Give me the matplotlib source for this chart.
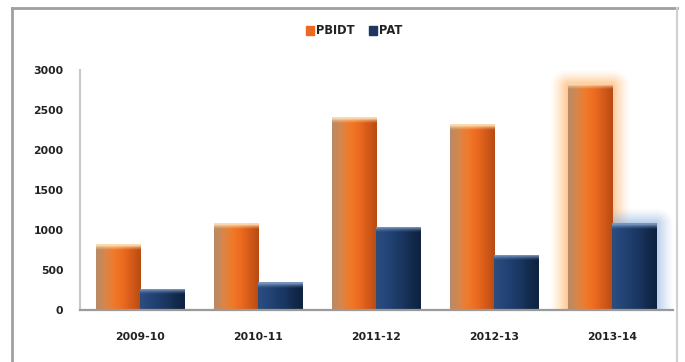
import numpy as np
import matplotlib
matplotlib.use("Agg")
import matplotlib.pyplot as plt
from matplotlib.colors import LinearSegmentedColormap, to_rgb
from matplotlib.patches import Rectangle
from matplotlib.lines import Line2D

# ---- data ----
categories = ["2009-10", "2010-11", "2011-12", "2012-13", "2013-14"]
pbidt = [825, 1085, 2410, 2320, 2830]
pat = [265, 345, 1040, 690, 1085]
yticks = [0, 500, 1000, 1500, 2000, 2500, 3000]
series_names = ["PBIDT", "PAT"]

ORANGE = "#EB6A1F"
NAVY = "#1C3760"

plt.rcParams['font.family'] = ['DejaVu Sans']

fig = plt.figure(figsize=(6.85, 3.62), dpi=100)
ax = fig.add_axes([80 / 685, 1 - 310 / 362, (673 - 80) / 685, 240 / 362])

x = np.arange(len(categories))
w = 0.373
b1 = ax.bar(x - w, pbidt, width=w, align='edge', color=ORANGE, zorder=3)
b2 = ax.bar(x, pat, width=w, align='edge', color=NAVY, zorder=3)

# gradient shading
orange_cmap = LinearSegmentedColormap.from_list(
    "o", ["#B88A68", "#D8864A", "#F07A2A", "#EC6B20", "#D55A18", "#B84C14"])
navy_cmap = LinearSegmentedColormap.from_list(
    "n", ["#2C4D7C", "#25467A", "#1E3E6C", "#1A3560", "#132A4C", "#0F2240"])
grad = np.linspace(0, 1, 64).reshape(1, -1)

def shade(bars, cmap, cap):
    for p in bars:
        x0, y0 = p.get_x(), p.get_y()
        ww, hh = p.get_width(), p.get_height()
        im = ax.imshow(grad, cmap=cmap, aspect='auto',
                       extent=(x0, x0 + ww, y0, y0 + hh), zorder=4,
                       interpolation='bicubic')
        im.set_clip_path(p)
        # top highlight cap
        capc = np.zeros((16, 1, 4))
        capc[..., :3] = to_rgb(cap)
        capc[:, 0, 3] = np.concatenate([np.linspace(0.0, 0.6, 10), np.linspace(0.9, 0.95, 6)])
        ch = 70
        im2 = ax.imshow(capc, aspect='auto', origin='lower',
                        extent=(x0, x0 + ww, y0 + hh - ch, y0 + hh), zorder=5,
                        interpolation='bicubic')
        im2.set_clip_path(p)

# glow for the last pair
def glow(p, color, spread_x, spread_y):
    x0, ww, hh = p.get_x(), p.get_width(), p.get_height()
    n = 60
    xs = np.linspace(x0 - spread_x, x0 + ww + spread_x, n)
    ys = np.linspace(0, hh + spread_y, n)
    X, Y = np.meshgrid(xs, ys)
    dx = np.maximum(0, np.maximum(x0 - X, X - (x0 + ww))) / spread_x
    dy = np.maximum(0, Y - hh) / spread_y
    d = np.sqrt(dx ** 2 + dy ** 2)
    a = np.clip(1 - d, 0, 1) ** 1.3 * 0.6
    img = np.zeros((n, n, 4))
    img[..., :3] = to_rgb(color)
    img[..., 3] = a
    ax.imshow(img, origin='lower', aspect='auto',
              extent=(xs[0], xs[-1], 0, hh + spread_y), zorder=2,
              interpolation='bilinear')

glow(b1[-1], "#FFA040", 0.16, 200)
glow(b2[-1], "#7FA8DA", 0.16, 200)

shade(b1, orange_cmap, "#FFE2B8")
shade(b2, navy_cmap, "#7F9CC4")

ax.set_xlim(-0.508, 4.517)
ax.set_ylim(0, 3000)
ax.set_yticks(yticks)
ax.set_yticklabels([str(v) for v in yticks])
ax.set_xticks(x)
ax.set_xticklabels(categories)
ax.tick_params(axis='both', length=0, labelsize=7.8, colors="#222222")
ax.tick_params(axis='y', pad=12)
ax.tick_params(axis='x', pad=16)
for lab in ax.get_xticklabels() + ax.get_yticklabels():
    lab.set_fontweight('bold')

for s in ["top", "right"]:
    ax.spines[s].set_visible(False)
ax.spines["left"].set_color("#C8C8C8")
ax.spines["left"].set_linewidth(1.5)
ax.spines["bottom"].set_color("#9A9A9A")
ax.spines["bottom"].set_linewidth(1.6)
ax.spines["bottom"].set_zorder(6)
ax.set_facecolor("none")

# legend
handles = [Rectangle((0, 0), 1, 1, color=ORANGE), Rectangle((0, 0), 1, 1, color=NAVY)]
leg = fig.legend(handles, series_names, loc='center', bbox_to_anchor=(354 / 685, 1 - 31 / 362),
                 ncol=2, frameon=False, handlelength=0.7, handleheight=0.7,
                 handletextpad=0.2, columnspacing=1.2,
                 prop={'size': 8.3, 'weight': 'bold'})
for t in leg.get_texts():
    t.set_color("#222222")

# outer frame
fc = "#A0A0A0"
fig.add_artist(Line2D([12 / 685, 12 / 685], [0, 1 - 8 / 362], color=fc, lw=2, transform=fig.transFigure))
fig.add_artist(Line2D([12 / 685, 677 / 685], [1 - 8 / 362, 1 - 8 / 362], color=fc, lw=2, transform=fig.transFigure))
fig.add_artist(Line2D([677 / 685, 677 / 685], [0, 1 - 8 / 362], color="#D0D0D0", lw=1.5, transform=fig.transFigure))

fig.savefig("out.png", dpi=100)
